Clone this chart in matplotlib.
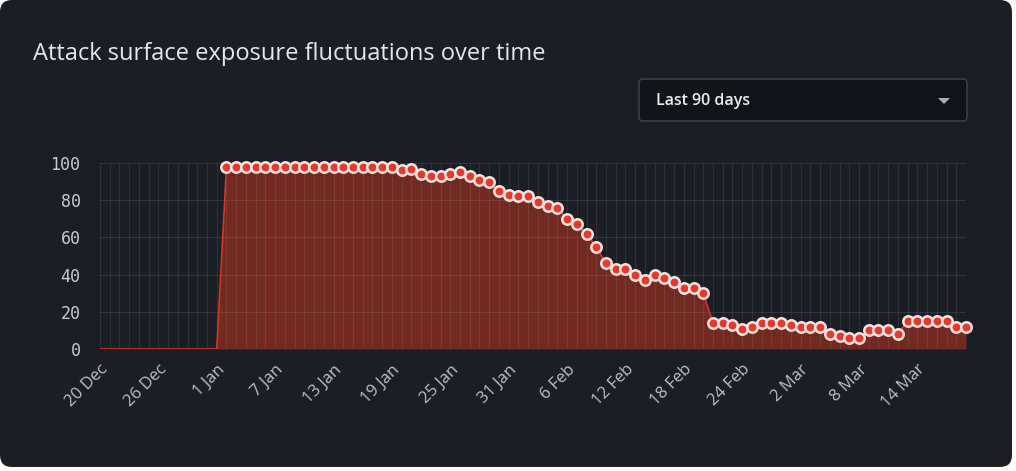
import numpy as np
import pandas as pd
import matplotlib
matplotlib.use('Agg')
import matplotlib.pyplot as plt
import matplotlib.dates as mdates
from matplotlib.patches import FancyBboxPatch, Polygon

# Data (one point per day, 20 Dec -> 19 Mar)
start_date = '2022-12-20'
n_days = 90
exposure = [
    0, 0, 0, 0, 0, 0, 0, 0, 0, 0, 0, 0, 0,
    98, 98, 98, 98, 98, 98, 98, 98, 98, 98, 98, 98, 98, 98, 98, 98, 98, 98,
    96, 97, 94, 93, 93, 94, 95, 93, 91, 90, 85, 83, 82, 82, 79, 77, 76, 70,
    67, 62, 55, 46, 43, 43, 40, 37, 40, 38, 36, 33,
    33, 30, 14, 14, 13, 11, 12, 14, 14, 14, 13, 12, 12, 12, 8, 7, 6, 6,
    10, 10, 10, 8, 15, 15, 15, 15, 15, 12, 12,
]
y_ticks = [0, 20, 40, 60, 80, 100]
title = 'Attack surface exposure fluctuations over time'
dropdown_label = 'Last 90 days'

dates = pd.date_range(start_date, periods=n_days, freq='D')
values = np.array(exposure, dtype=float)
marker_vals = np.where(values > 0, values, np.nan)  # no dots on the zero days

BG = '#1b1e25'
W, H = 1016, 471

fig = plt.figure(figsize=(W / 100, H / 100), dpi=100, facecolor='white')

# card background + header widgets, drawn in pixel coords
deco = fig.add_axes([0, 0, 1, 1])
deco.set_xlim(0, W)
deco.set_ylim(H, 0)
deco.axis('off')
deco.add_patch(FancyBboxPatch((0, 0), 1012, 467, boxstyle='round,pad=0,rounding_size=12',
                              facecolor=BG, edgecolor='none'))
deco.text(33, 54, title, fontsize=17, color='#e4e7ec', family='Open Sans',
          va='center', ha='left')
deco.add_patch(FancyBboxPatch((639, 79), 328, 42, boxstyle='round,pad=0,rounding_size=4',
                              facecolor='#121419', edgecolor='#41464f', linewidth=1))
deco.text(656, 101, dropdown_label, fontsize=11.5, color='#eceef1', family='Open Sans',
          va='center', ha='left', weight='semibold')
deco.add_patch(Polygon([[938, 98], [950, 98], [944, 104]], closed=True,
                       facecolor='#a9adb4', edgecolor='none'))

# main chart
ax = fig.add_axes([100 / W, 1 - 349 / H, 866 / W, 186 / H])
ax.set_facecolor('none')
ax.fill_between(dates, values, 0, color='#712920', linewidth=0, zorder=1)
ax.plot(dates, values, color='#d8342a', linewidth=1.2, zorder=3)
ax.plot(dates, marker_vals, linestyle='none', marker='o', markersize=7.5,
        markerfacecolor='#e4392c', markeredgecolor='#fbe2de', markeredgewidth=1.8,
        zorder=4, clip_on=False)

ax.set_xlim(dates[0], dates[-1])
ax.set_ylim(0, 100)
ax.set_yticks(y_ticks)

# one vertical grid line per day, labels every 6 days
ax.xaxis.set_minor_locator(mdates.DayLocator())
tick_dates = dates[::6]
ax.set_xticks(tick_dates)
ax.set_xticklabels([f'{d.day} {d.strftime("%b")}' for d in tick_dates])
ax.grid(which='both', axis='x', color='#9aa3b0', alpha=0.15, linewidth=0.8, zorder=2)
ax.grid(which='major', axis='y', color='#9aa3b0', alpha=0.17, linewidth=0.8, zorder=2)
ax.set_axisbelow(False)

for s in ax.spines.values():
    s.set_visible(False)

ax.tick_params(axis='both', which='both', length=0)
ax.tick_params(axis='y', pad=14, labelsize=12, labelcolor='#c6cad1')
ax.tick_params(axis='x', pad=9, labelsize=12, labelcolor='#bcc1c9')
for lbl in ax.get_yticklabels():
    lbl.set_family('DejaVu Sans Mono')
for lbl in ax.get_xticklabels():
    lbl.set_rotation(45)
    lbl.set_ha('right')
    lbl.set_rotation_mode('anchor')
    lbl.set_family('Open Sans')

fig.savefig('out.png', dpi=100, facecolor='white')
